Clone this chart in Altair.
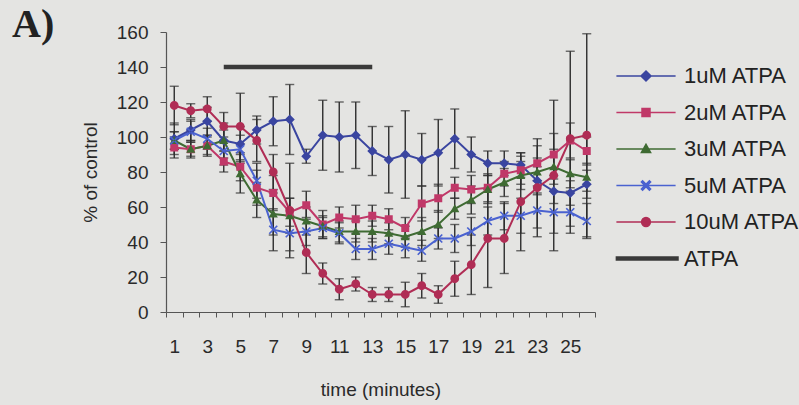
import altair as alt
import pandas as pd

minutes = list(range(1, 27))
series_names = ["1uM ATPA", "2uM ATPA", "3uM ATPA", "5uM ATPA", "10uM ATPA", "ATPA"]

v1 = [99, 104, 109, 98, 96, 104, 109, 110, 89, 101, 100, 101, 92, 87, 90, 87, 91, 99, 90, 85, 85, 84, 75, 69, 68, 73]
v2 = [94, 93, 95, 86, 83, 71, 68, 57, 61, 50, 54, 53, 55, 53, 48, 62, 65, 71, 70, 71, 79, 81, 85, 90, 98, 92]
v3 = [98, 93, 95, 98, 79, 64, 56, 55, 52, 49, 46, 46, 46, 45, 43, 46, 50, 59, 64, 70, 74, 78, 80, 83, 79, 77]
v5 = [98, 103, 99, 92, 93, 75, 47, 45, 46, 48, 45, 36, 36, 39, 37, 35, 42, 42, 46, 52, 55, 55, 58, 57, 57, 52]
v10 = [118, 115, 116, 106, 106, 98, 80, 58, 34, 22, 13, 16, 10, 10, 10, 15, 10, 19, 27, 42, 42, 63, 71, 78, 99, 101]

e1 = [9, 6, 8, 10, 10, 8, 14, 20, 4, 20, 20, 19, 14, 19, 25, 15, 19, 17, 10, 7, 7, 7, 8, 7, 7, 8]
e2 = [6, 4, 6, 6, 8, 10, 10, 8, 8, 8, 6, 8, 6, 6, 6, 10, 8, 6, 8, 8, 7, 8, 10, 12, 10, 8]
e3 = [5, 5, 5, 6, 11, 10, 12, 10, 8, 6, 6, 6, 6, 6, 6, 8, 8, 6, 8, 8, 8, 8, 8, 10, 8, 8]
e5 = [5, 6, 6, 8, 8, 10, 12, 10, 8, 6, 6, 6, 6, 6, 6, 6, 6, 8, 8, 8, 8, 10, 10, 12, 12, 10]
e10 = [11, 4, 7, 8, 19, 12, 10, 27, 12, 6, 6, 4, 4, 4, 7, 7, 5, 10, 17, 28, 20, 28, 28, 43, 50, 58]

atpa_start, atpa_end, atpa_level = 4, 13, 140
panel_label = ["A)"]

colors = ["#3a45a0", "#c03868", "#3f6b33", "#4a62d0", "#b02d55", "#3a3a3a"]

markers = [
    "M0,-1.25L1.25,0L0,1.25L-1.25,0Z",
    "M-1,-1L1,-1L1,1L-1,1Z",
    "M0,-1.15L1.15,0.9L-1.15,0.9Z",
    "M-1.15,-0.85L-0.85,-1.15L1.15,0.85L0.85,1.15ZM-1.15,0.85L-0.85,1.15L1.15,-0.85L0.85,-1.15Z",
    "M-1.1,0A1.1,1.1,0,1,0,1.1,0A1.1,1.1,0,1,0,-1.1,0Z",
]
line_part = "M-7.4,0L7.4,0"
legend_shapes = [line_part + m for m in markers] + ["M-7.4,-0.35L8.0,-0.35L8.0,0.35L-7.4,0.35Z"]

rows = []
for name, vals, errs in zip(series_names[:5], [v1, v2, v3, v5, v10], [e1, e2, e3, e5, e10]):
    for m, v, e in zip(minutes, vals, errs):
        rows.append({"minute": m, "series": name, "value": v, "lo": v - e, "hi": v + e})
df = pd.DataFrame(rows)

atpa_df = pd.DataFrame({"start": [atpa_start], "end": [atpa_end], "level": [atpa_level]})
label_df = pd.DataFrame({"t": panel_label})

font = "Liberation Sans"
x_vals = [i + 0.5 for i in range(0, 27)]

x_scale = alt.Scale(domain=[0.5, 26.5], nice=False, zero=False)
y_scale = alt.Scale(domain=[0, 160], nice=False)

x_axis = alt.Axis(
    values=x_vals, tickCount=40, title="time (minutes)", grid=False,
    labelExpr="(datum.value + 0.5) % 2 == 1 && datum.value < 26 ? format(datum.value + 0.5, 'd') : ''",
    labelOffset=8.25, labelFlush=False, labelOverlap=False, labelBound=False,
    tickSize=5, labelPadding=20, titlePadding=24,
)
y_axis = alt.Axis(
    values=list(range(0, 161, 20)), tickCount=20, title="% of control", grid=False,
    labelOverlap=False, tickSize=6, labelPadding=12, titlePadding=16,
)

color_scale = alt.Scale(domain=series_names, range=colors)
shape_scale = alt.Scale(domain=series_names, range=legend_shapes)

base = alt.Chart(df)

err_rule = base.mark_rule(color="#2e2e2e", strokeWidth=1.4).encode(
    x=alt.X("minute:Q", scale=x_scale, axis=x_axis),
    y=alt.Y("lo:Q", scale=y_scale, axis=y_axis),
    y2="hi:Q",
)
err_top = base.mark_tick(color="#2e2e2e", orient="horizontal", size=9, thickness=1.4).encode(
    x="minute:Q", y="hi:Q"
)
err_bot = base.mark_tick(color="#2e2e2e", orient="horizontal", size=9, thickness=1.4).encode(
    x="minute:Q", y="lo:Q"
)

line_layers = []
for name, col in zip(series_names[:5], colors[:5]):
    line_layers.append(
        base.transform_filter(alt.datum.series == name)
        .mark_line(strokeWidth=2, color=col)
        .encode(x="minute:Q", y="value:Q", order="minute:Q")
    )

leg = dict(
    title=None, orient="none", legendX=469, legendY=33,
    labelFontSize=22, labelFont=font, labelColor="#222",
    labelOffset=27, rowPadding=14.5, symbolSize=64, symbolFillColor="#000000",
)

# Stroke only exists for legend entries (they carry a label); the plotted
# markers are fill-only, so the connector segment in the shape path stays hidden.
points = base.mark_point(
    filled=True, size=64, opacity=1, strokeWidth=2,
    stroke=alt.ExprRef(expr="datum.label ? scale('color', datum.value) : null"),
).encode(
    x="minute:Q", y="value:Q",
    color=alt.Color("series:N", scale=color_scale, legend=alt.Legend(**leg)),
    shape=alt.Shape("series:N", scale=shape_scale, legend=alt.Legend(**leg)),
)

atpa_bar = alt.Chart(atpa_df).mark_rule(color="#3a3a3a", strokeWidth=4.5).encode(
    x="start:Q", x2="end:Q", y="level:Q"
)

panel = alt.Chart(label_df).mark_text(
    align="left", baseline="alphabetic", font="Liberation Serif",
    fontSize=40, fontWeight="bold", color="#222",
).encode(text="t:N", x=alt.value(-154), y=alt.value(5))

chart = alt.layer(
    err_rule, err_top, err_bot, atpa_bar, *line_layers, points, panel
).properties(
    width=429, height=280,
    autosize=alt.AutoSizeParams(type="none"),
    padding={"left": 166, "top": 32, "right": 204, "bottom": 93},
    background="#e4e4e2",
).configure_view(stroke=None).configure_axis(
    labelFont=font, labelFontSize=19, labelColor="#2a2a2a",
    titleFont=font, titleFontSize=19, titleFontWeight="normal", titleColor="#2a2a2a",
    domainColor="#555", tickColor="#555", domainWidth=1.2, labelOverlap=False,
)

chart.save("out.html", embed_options={"renderer": "svg", "actions": False})
